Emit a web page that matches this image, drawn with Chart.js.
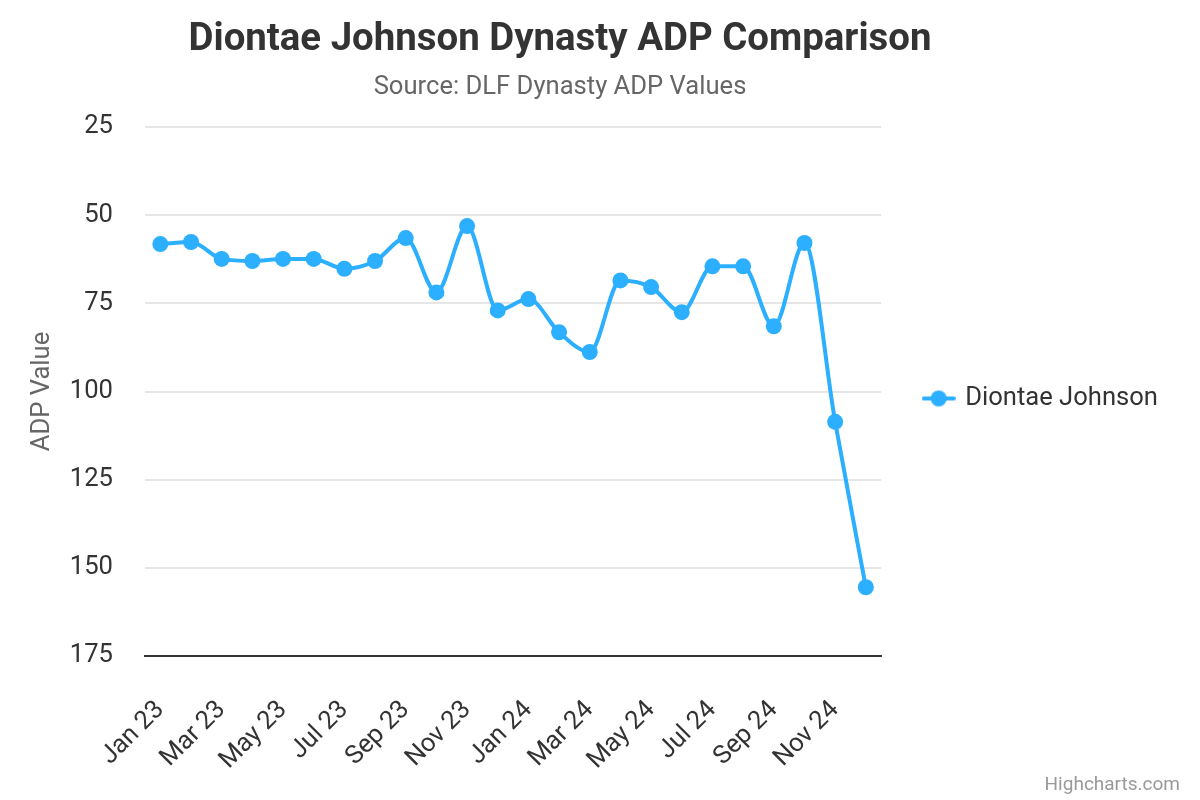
<!DOCTYPE html>
<html><head><meta charset="utf-8">
<script src="https://cdn.jsdelivr.net/npm/chart.js@4/dist/chart.umd.min.js"></script>
<style>html,body{margin:0;padding:0;background:#fff}#wrap{width:1200px;height:800px;position:relative}</style>
</head><body><div id="wrap"><canvas id="c" width="1200" height="800"></canvas></div>
<script>
const months = ['Jan 23','Feb 23','Mar 23','Apr 23','May 23','Jun 23','Jul 23','Aug 23','Sep 23','Oct 23','Nov 23','Dec 23',
                'Jan 24','Feb 24','Mar 24','Apr 24','May 24','Jun 24','Jul 24','Aug 24','Sep 24','Oct 24','Nov 24','Dec 24'];
const adpValues = [58.2, 57.6, 62.4, 63.0, 62.4, 62.4, 65.2, 63.0, 56.5, 71.9, 53.1, 77.0,
                   73.8, 83.2, 88.8, 68.5, 70.4, 77.5, 64.5, 64.5, 81.5, 57.9, 108.6, 155.5];
const yTickValues = [25, 50, 75, 100, 125, 150, 175];
const seriesName = 'Diontae Johnson';
const titleText = 'Diontae Johnson Dynasty ADP Comparison';
const subtitleText = 'Source: DLF Dynasty ADP Values';
const yAxisTitle = 'ADP Value';
const creditText = 'Highcharts.com';

const LINE_COLOR = '#2caffe';
const FONT = 'Roboto, "Noto Sans", sans-serif';

// legend symbol: line with a dot
const sym = document.createElement('canvas');
sym.width = 34; sym.height = 18;
(function(){
  const c = sym.getContext('2d');
  c.strokeStyle = LINE_COLOR; c.lineWidth = 4; c.lineCap = 'round';
  c.beginPath(); c.moveTo(2, 9); c.lineTo(32, 9); c.stroke();
  c.fillStyle = LINE_COLOR; c.beginPath(); c.arc(17, 9, 8, 0, Math.PI * 2); c.fill();
})();

const textPlugin = {
  id: 'texts',
  afterLayout(chart) {
    // nudge legend down to match reference vertical placement
    chart.legend.top += 7;
    chart.legend.bottom += 7;
  },
  afterDraw(chart) {
    const ctx = chart.ctx;
    ctx.save();
    ctx.textAlign = 'center';
    ctx.textBaseline = 'alphabetic';
    ctx.fillStyle = '#333333';
    ctx.font = 'bold 38.4px ' + FONT;
    ctx.fillText(titleText, 560, 50);
    ctx.fillStyle = '#666666';
    ctx.font = '25.6px ' + FONT;
    ctx.fillText(subtitleText, 560, 94);
    ctx.textAlign = 'right';
    ctx.fillStyle = '#999999';
    ctx.font = '19px ' + FONT;
    ctx.fillText(creditText, 1180, 790);
    ctx.restore();
  }
};

new Chart(document.getElementById('c'), {
  type: 'line',
  data: {
    labels: months,
    datasets: [{
      label: seriesName,
      data: adpValues,
      borderColor: LINE_COLOR,
      backgroundColor: LINE_COLOR,
      borderWidth: 4,
      pointRadius: 8,
      pointHoverRadius: 8,
      pointBorderWidth: 0,
      pointBackgroundColor: LINE_COLOR,
      cubicInterpolationMode: 'monotone',
      fill: false
    }]
  },
  options: {
    responsive: false,
    animation: false,
    devicePixelRatio: 1,
    layout: { padding: { top: 127, left: 0, right: 32, bottom: 0 } },
    plugins: {
      title: { display: false },
      tooltip: { enabled: false },
      legend: {
        display: true,
        position: 'right',
        align: 'center',
        fullSize: false,
        labels: {
          usePointStyle: true,
          pointStyle: sym,
          pointStyleWidth: 27.4,
          padding: 43.8,
          color: '#333333',
          font: { family: FONT, size: 25.6 }
        }
      }
    },
    scales: {
      x: {
        offset: true,
        grid: { display: false, drawTicks: false },
        border: { display: true, color: '#333333', width: 2 },
        ticks: {
          autoSkip: false,
          minRotation: 45,
          maxRotation: 45,
          padding: 39,
          color: '#333333',
          font: { family: FONT, size: 25.6 },
          callback: function(v, i) { return i % 2 === 0 ? months[i] : ''; }
        },
        afterFit(scale) { scale.height = 144; }
      },
      y: {
        reverse: true,
        min: 25,
        max: 175,
        afterBuildTicks(scale) { scale.ticks = yTickValues.map(v => ({ value: v })); },
        grid: { color: '#e6e6e6', lineWidth: 2, drawTicks: false },
        border: { display: false },
        ticks: {
          padding: 32,
          color: '#333333',
          font: { family: FONT, size: 25.6 }
        },
        title: {
          display: true,
          text: yAxisTitle,
          color: '#666666',
          font: { family: FONT, size: 25.6 },
          padding: { top: 27, bottom: 0 }
        },
        afterFit(scale) { scale.width = 145; }
      }
    }
  },
  plugins: [textPlugin]
});
</script>
</body></html>
